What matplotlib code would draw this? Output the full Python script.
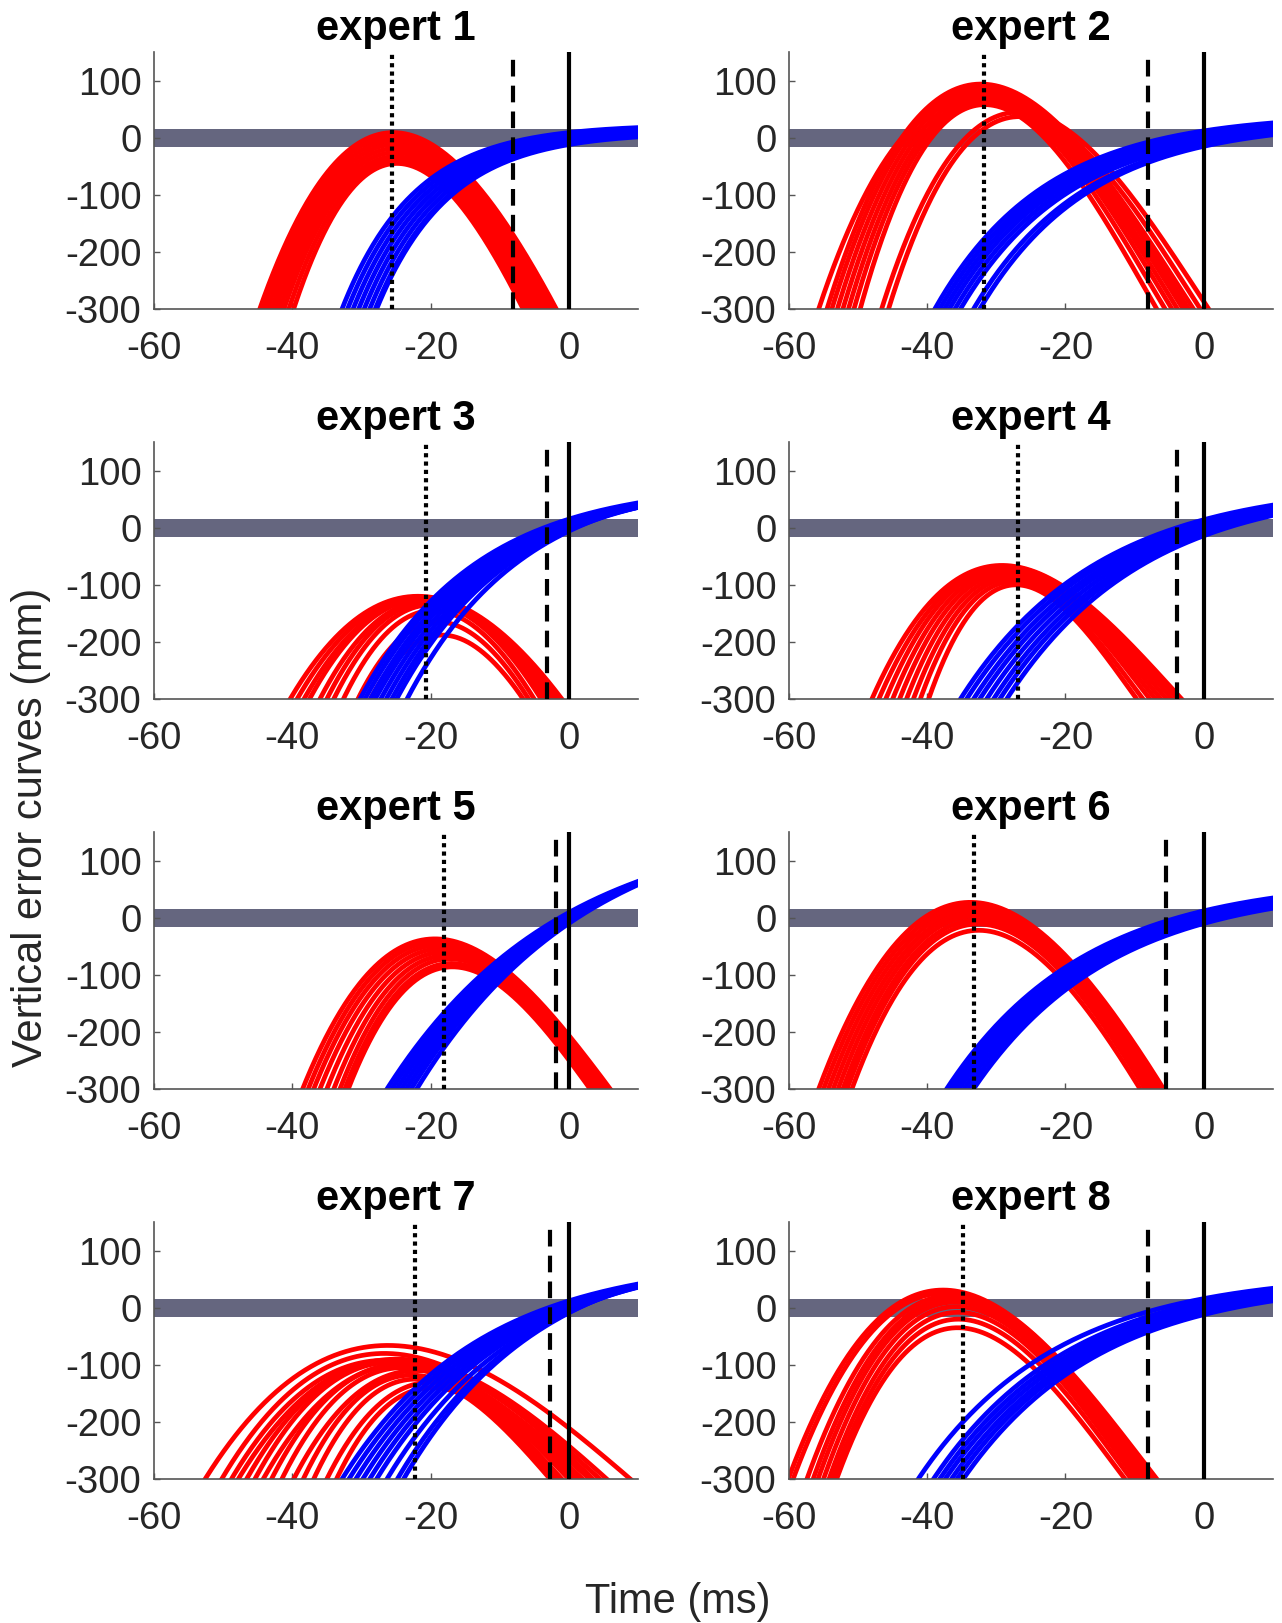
import numpy as np
import matplotlib.pyplot as plt

plt.rcParams['font.family'] = ['Liberation Sans', 'DejaVu Sans']

titles = ["expert 1", "expert 2", "expert 3", "expert 4",
          "expert 5", "expert 6", "expert 7", "expert 8"]
xticks = [-60, -40, -20, 0]
xtick_labels = ["-60", "-40", "-20", "0"]
yticks = [-300, -200, -100, 0, 100]
ytick_labels = ["-300", "-200", "-100", "0", "100"]

# vertical markers (ms), one per expert
t_dotted = [-25.6, -31.8, -20.6, -26.8, -18.1, -33.2, -22.3, -34.8]
t_dashed = [-8.0, -8.0, -3.1, -3.9, -1.9, -5.5, -2.7, -8.1]
t_solid = [0, 0, 0, 0, 0, 0, 0, 0]

# tolerance band around zero (mm)
band_lo, band_hi = -16, 16

# red curves: time where each curve leaves / re-enters -300 mm, and its peak (mm)
red_tl = [
    [-44.7, -44.2, -43.6, -43.0, -42.4, -41.8, -41.2, -40.5, -39.8],
    [-55.7, -54.5, -53.8, -53.0, -52.2, -51.4, -50.6, -49.7, -46.6, -45.6],
    [-40.3, -39.3, -38.3, -37.5, -36.0, -35.0, -34.0, -32.6, -30.5, -28.7],
    [-48.0, -47.0, -46.0, -45.0, -44.0, -43.0, -42.0, -41.0, -39.8],
    [-38.5, -37.7, -36.9, -36.0, -35.0, -34.0, -33.1, -32.4, -31.9],
    [-55.7, -55.0, -54.3, -53.6, -52.9, -52.2, -51.6, -50.9],
    [-52.6, -50.2, -48.8, -47.8, -46.6, -45.4, -44.2, -43.0, -41.5, -39.8,
     -38.4, -36.9, -35.0, -33.6],
    [-60.1, -59.4, -57.4, -56.5, -55.8, -55.0, -54.2, -53.6, -53.1],
]
red_tr = [
    [-1.8, -2.4, -3.0, -3.6, -4.2, -4.8, -5.4, -6.0, -6.6],
    [-2.5, -1.5, -2.2, -3.0, -3.8, -4.6, -5.6, -6.8, 0.7, -0.5],
    [-1.0, -1.5, -2.0, -2.5, -3.0, -3.5, -4.0, -5.0, -5.8, -6.6],
    [-3.2, -3.8, -4.6, -5.4, -6.2, -7.0, -7.8, -8.8, -9.7],
    [6.0, 5.7, 5.3, 5.0, 4.6, 4.2, 3.8, 3.4, 3.1],
    [-5.8, -6.2, -6.6, -7.0, -7.5, -8.0, -8.5, -9.2],
    [8.9, 4.5, 3.0, 5.5, 2.0, 1.0, 3.5, 0.0, -1.0, 1.5, -2.0, -2.7, 0.5, -1.5],
    [-6.8, -7.0, -7.4, -8.0, -8.6, -9.2, -9.8, -10.5, -11.4],
]
red_peak = [
    [9, 2, -5, -12, -19, -26, -33, -39, -45],
    [70, 94, 88, 82, 76, 70, 64, 58, 45, 37],
    [-120, -122, -125, -125, -128, -130, -135, -145, -165, -188],
    [-66, -68, -70, -74, -78, -83, -88, -94, -100],
    [-37, -42, -48, -54, -60, -66, -72, -80, -86],
    [27, 21, 15, 9, 3, -4, -11, -22],
    [-66, -80, -92, -90, -95, -95, -98, -100, -105, -110, -118, -125, -130, -140],
    [31, 26, 22, 16, 10, 2, -8, -20, -35],
]
# where the peak sits between the two crossings (fraction from the left)
red_lean = [0.45, 0.42, 0.47, 0.42, 0.43, 0.44, 0.43, 0.42]

# blue curves: time where each curve comes up through -300 mm, value at t=0, time constant
blue_t300 = [
    [-32.8, -32.0, -31.2, -30.4, -29.6, -28.8, -28.0, -27.8],
    [-38.9, -38.2, -37.5, -36.8, -36.0, -35.2, -33.3, -32.4],
    [-30.2, -29.5, -28.7, -28.0, -27.2, -26.4, -25.6, -24.9, -23.4],
    [-35.2, -34.3, -33.3, -32.4, -31.4, -30.4, -29.5, -28.5],
    [-26.3, -25.6, -24.9, -24.2, -23.5, -22.8, -22.0],
    [-37.2, -36.6, -36.0, -35.4, -34.7, -34.0, -33.3],
    [-32.8, -31.8, -30.8, -29.8, -28.8, -27.8, -26.3, -24.8, -23.9],
    [-41.3, -39.1, -38.2, -37.4, -36.5, -35.7, -34.8],
]
blue_y0 = [
    [9, 6, 3, 0, -3, -6, -9, -12],
    [12, 8, 4, 0, -4, -8, -12, -15],
    [15, 12, 9, 6, 3, 0, -2, -4, -6],
    [14, 10, 6, 2, -2, -6, -10, -14],
    [9, 6, 3, 0, -3, -6, -10],
    [12, 8, 4, 0, -3, -6, -10],
    [12, 9, 6, 3, 0, -3, -6, -8, -9],
    [16, 10, 5, 0, -4, -8, -12],
]
blue_tau = [10.5, 16, 17, 20, 25, 20, 20, 20]

t = np.linspace(-60, 10, 500)


def red_curve(tl, tr, yp, lean):
    a = lean * (tr - tl)
    b = (1 - lean) * (tr - tl)
    d = yp + 300.0
    c = d * (b - a) / (a ** 2 * b ** 2)
    k = d / a ** 2 - c * a
    dt = t - (tl + a)
    return yp - k * dt ** 2 + c * dt ** 3


def blue_curve(t300, y0, tau):
    amp = (-300.0 - y0) / (1 - np.exp(-t300 / tau))
    return y0 + amp * (1 - np.exp(-t / tau))


fig = plt.figure(figsize=(12.82, 16.23), dpi=100)
lefts = [0.1201, 0.6154]
bottoms = [0.8096, 0.5693, 0.3290, 0.0887]
grey = '#262626'

for e in range(8):
    ax = fig.add_axes([lefts[e % 2], bottoms[e // 2], 0.3775, 0.1583])
    ax.fill_between([-60, 10], band_lo, band_hi, color='#65667f', lw=0, zorder=1)

    # red trajectories first, blue ones over them
    for tl, tr, yp in zip(red_tl[e], red_tr[e], red_peak[e]):
        ax.plot(t, red_curve(tl, tr, yp, red_lean[e]), color='#ff0000', lw=3.4, zorder=2)
    for t300, y0 in zip(blue_t300[e], blue_y0[e]):
        ax.plot(t, blue_curve(t300, y0, blue_tau[e]), color='#0000ff', lw=3.4, zorder=2)

    ax.axvline(t_dotted[e], color='black', lw=3.0, ls=(0, (1.0, 1.0)), zorder=3)
    ax.axvline(t_dashed[e], color='black', lw=3.0, ls=(0, (4.0, 2.2)), zorder=3)
    ax.axvline(t_solid[e], color='black', lw=3.0, zorder=3)

    ax.set_xlim(-60, 10)
    ax.set_ylim(-300, 150)
    ax.set_xticks(xticks)
    ax.set_xticklabels(xtick_labels)
    ax.set_yticks(yticks)
    ax.set_yticklabels(ytick_labels)
    ax.spines['top'].set_visible(False)
    ax.spines['right'].set_visible(False)
    for s in ['left', 'bottom']:
        ax.spines[s].set_color('#555555')
        ax.spines[s].set_linewidth(1.2)
    ax.tick_params(direction='in', length=4, width=1, color='#555555',
                   labelsize=27.5, labelcolor=grey)
    ax.tick_params(axis='y', pad=9)
    ax.tick_params(axis='x', pad=16)
    ax.set_title(titles[e], fontsize=30, fontweight='bold', pad=9)

fig.text(0.529, 0.013, "Time (ms)", fontsize=30, color=grey, ha='center', va='center')
fig.text(0.024, 0.49, "Vertical error curves (mm)", fontsize=30, color=grey,
         ha='center', va='center', rotation=90)

fig.savefig("out.png", dpi=100)
